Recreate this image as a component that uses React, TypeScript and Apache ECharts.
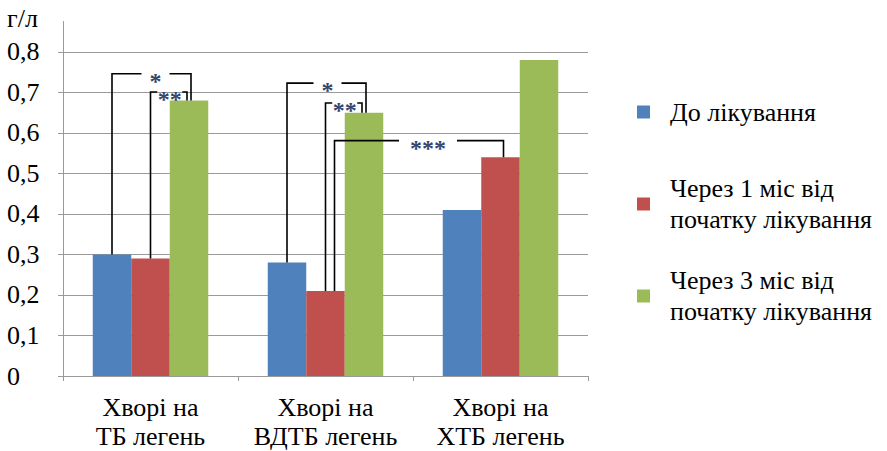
import React, { useEffect, useRef } from "react";
import * as echarts from "echarts";

const categories = ["Хворі на\nТБ легень", "Хворі на\nВДТБ легень", "Хворі на\nХТБ легень"];
const seriesNames = ["До лікування", "Через 1 міс від початку лікування", "Через 3 міс від початку лікування"];
const beforeTreatment = [0.3, 0.28, 0.41];
const afterMonth1 = [0.29, 0.21, 0.54];
const afterMonth3 = [0.68, 0.65, 0.78];
const seriesValues = [beforeTreatment, afterMonth1, afterMonth3];
const yTicks = [0, 0.1, 0.2, 0.3, 0.4, 0.5, 0.6, 0.7, 0.8];
const unitLabel = "г/л";

// significance brackets
const annFromCat = [0, 0, 1, 1, 1];
const annFromSeries = [0, 1, 0, 1, 1];
const annToCat = [0, 0, 1, 1, 2];
const annToSeries = [2, 2, 2, 2, 1];
const annLevel = [0.746, 0.701, 0.723, 0.674, 0.581];
const annLabel = ["*", "**", "*", "**", "***"];

// bracket styling (pixel tweaks)
const annLeftDx = [0, 0, 0, 0, 9];
const annRightDx = [2, -2, 2, -2, 3];
const annGapDx = [4, 1, 1, 1, 9];
const annGap = [28, 25, 28, 25, 58];

const colors = ["#4F81BD", "#C0504D", "#9BBB59"];
const BAR_FRAC = 0.22;
const FONT = "Times New Roman";
const GRID_COLOR = "#9a9a9a";

export default function App() {
  const ref = useRef<HTMLDivElement>(null);
  useEffect(() => {
    if (!ref.current) return;
    const chart = echarts.init(ref.current, undefined, { renderer: "svg" });
    const legendTops = [96.5, 157.5, 249.5];
    const option: any = {
      animation: false,
      textStyle: { fontFamily: FONT },
      grid: { left: 63, right: 299, top: 21.5, bottom: 74, containLabel: false },
      legend: seriesNames.map((n, i) => ({
        data: [n],
        left: 637,
        top: legendTops[i],
        orient: "vertical",
        padding: 0,
        itemWidth: 13,
        itemHeight: 13,
        icon: "rect",
        selectedMode: false,
        formatter: (name: string) => name.replace(" від ", " від\n"),
        textStyle: {
          fontFamily: FONT,
          fontSize: 26,
          lineHeight: 31,
          color: "#000",
          padding: i === 0 ? [0, 0, 0, 15] : [31, 0, 0, 15],
        },
      })),
      xAxis: {
        type: "category",
        data: categories,
        axisLine: { lineStyle: { color: GRID_COLOR, width: 1 } },
        axisTick: { show: true, length: 5, lineStyle: { color: GRID_COLOR } },
        axisLabel: {
          interval: 0,
          fontFamily: FONT,
          fontSize: 26,
          lineHeight: 29,
          color: "#000",
          margin: 17,
        },
      },
      yAxis: {
        type: "value",
        min: 0,
        max: 0.875,
        interval: 0.1,
        axisLine: { show: true, lineStyle: { color: GRID_COLOR, width: 1 } },
        axisTick: { show: true, length: 5, lineStyle: { color: GRID_COLOR }, customValues: yTicks },
        axisLabel: {
          fontFamily: FONT,
          fontSize: 26,
          color: "#000",
          align: "left",
          margin: 56,
          customValues: yTicks,
          formatter: (v: number) => (v === 0 ? "0" : v.toFixed(1).replace(".", ",")),
        },
        splitLine: { show: true, lineStyle: { color: GRID_COLOR, width: 1 } },
      },
      graphic: [
        {
          type: "text",
          left: 7,
          top: 5,
          style: { text: unitLabel, fontFamily: FONT, fontSize: 26, fill: "#000" },
        },
      ],
      series: [
        ...seriesNames.map((n, i) => ({
          name: n,
          type: "bar",
          data: seriesValues[i],
          barWidth: BAR_FRAC * 100 + "%",
          barGap: "0%",
          itemStyle: { color: colors[i] },
        })),
        {
          type: "custom",
          silent: true,
          z: 10,
          clip: false,
          data: annFromCat.map((c, i) => [c, annLevel[i]]),
          encode: { x: 0, y: 1 },
          renderItem: (params: any, api: any) => {
            const i = params.dataIndex;
            const catW = api.size([1, 0])[0];
            const barW = catW * BAR_FRAC;
            const xOf = (c: number, s: number) => api.coord([c, 0])[0] + (s - 1) * barW;
            const xL = xOf(annFromCat[i], annFromSeries[i]) + annLeftDx[i];
            const xR = xOf(annToCat[i], annToSeries[i]) + annRightDx[i];
            const yL = api.coord([annFromCat[i], seriesValues[annFromSeries[i]][annFromCat[i]]])[1];
            const yR = api.coord([annToCat[i], seriesValues[annToSeries[i]][annToCat[i]]])[1];
            const yB = api.coord([0, annLevel[i]])[1];
            const mid = (xL + xR) / 2 + annGapDx[i];
            const g = annGap[i] / 2;
            const ls = { stroke: "#000", lineWidth: 1.6, fill: "none" };
            return {
              type: "group",
              children: [
                { type: "polyline", shape: { points: [[xL, yL], [xL, yB], [mid - g, yB]] }, style: ls },
                { type: "polyline", shape: { points: [[mid + g, yB], [xR, yB], [xR, yR]] }, style: ls },
                {
                  type: "text",
                  x: mid,
                  y: yB + 7,
                  style: {
                    text: annLabel[i],
                    fill: "#34466e",
                    fontFamily: FONT,
                    fontWeight: "bold",
                    fontSize: 24,
                    lineHeight: 12,
                    align: "center",
                    verticalAlign: "middle",
                  },
                },
              ],
            };
          },
        },
      ],
    };
    chart.setOption(option);
    return () => chart.dispose();
  }, []);
  return (
    <div
      ref={ref}
      style={{ position: "fixed", left: 0, top: 0, width: 887, height: 451, background: "#fff" }}
    />
  );
}
